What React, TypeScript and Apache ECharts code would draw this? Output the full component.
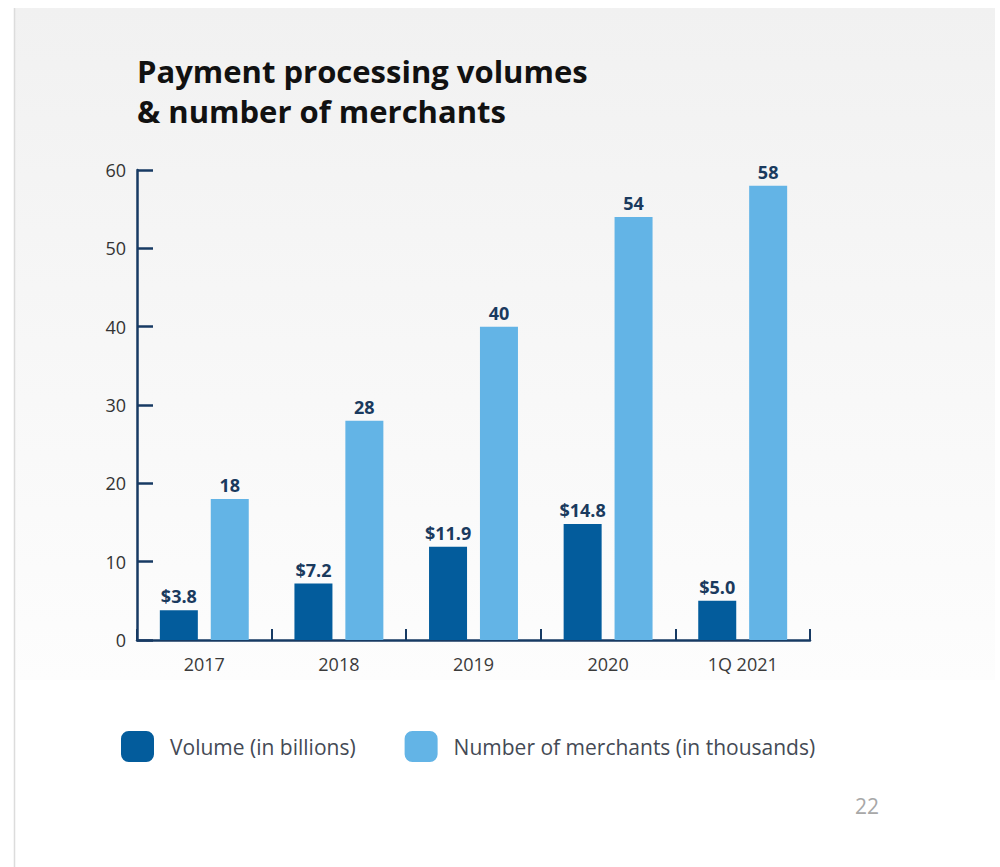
import React, { useEffect, useRef } from "react";
import * as echarts from "echarts";

const categories = ["2017", "2018", "2019", "2020", "1Q 2021"];
const volumeBillions = [3.8, 7.2, 11.9, 14.8, 5.0];
const merchantsThousands = [18, 28, 40, 54, 58];
const yTicks = [0, 10, 20, 30, 40, 50, 60];
const seriesNames = ["Volume (in billions)", "Number of merchants (in thousands)"];

export default function App() {
  const ref = useRef<HTMLDivElement>(null);
  useEffect(() => {
    if (!ref.current) return;
    const chart = echarts.init(ref.current, null, { renderer: "svg" });
    const navy = "#173a63";
    const font = "'Open Sans', 'Noto Sans', sans-serif";
    chart.setOption({
      animation: false,
      backgroundColor: "#ffffff",
      textStyle: { fontFamily: font },
      graphic: [
        {
          type: "rect",
          z: -10,
          silent: true,
          shape: { x: 14, y: 8, width: 981, height: 672 },
          style: {
            fill: new echarts.graphic.LinearGradient(0, 0, 0, 1, [
              { offset: 0, color: "#f1f1f1" },
              { offset: 1, color: "#fdfdfd" },
            ]),
          },
        },
        {
          type: "line",
          z: -9,
          silent: true,
          shape: { x1: 14.5, y1: 8, x2: 14.5, y2: 867 },
          style: { stroke: "#dcdcdc", lineWidth: 1.5 },
        },
        {
          type: "text",
          left: 855,
          top: 795,
          style: { text: "22", fill: "#a8a8a8", fontSize: 21, fontFamily: font },
        },
      ],
      title: {
        text: "Payment processing volumes\n& number of merchants",
        left: 132,
        top: 46,
        textStyle: {
          fontSize: 31,
          fontWeight: "bold",
          color: "#111111",
          lineHeight: 40,
          fontFamily: font,
        },
      },
      legend: {
        left: 116,
        top: 726,
        itemWidth: 33,
        itemHeight: 31,
        itemGap: 49,
        icon: "roundRect",
        data: seriesNames,
        textStyle: {
          fontSize: 21,
          color: "#444a55",
          padding: [0, 0, 0, 11],
          fontFamily: font,
        },
      },
      grid: { left: 137, right: 190, top: 170, bottom: 227, containLabel: false },
      xAxis: {
        type: "category",
        data: categories,
        boundaryGap: true,
        axisLine: { show: true, lineStyle: { color: navy, width: 2.5 } },
        axisTick: { show: true, inside: true, length: 11, lineStyle: { color: navy, width: 2 } },
        axisLabel: { fontSize: 18, color: "#3a3a3a", margin: 15, fontFamily: font },
      },
      yAxis: {
        type: "value",
        min: 0,
        max: 60,
        interval: 10,
        splitLine: { show: false },
        axisLine: { show: true, lineStyle: { color: navy, width: 2.5 } },
        axisTick: { show: true, inside: true, length: 16, lineStyle: { color: navy, width: 2.5 } },
        axisLabel: {
          fontSize: 18,
          color: "#333333",
          margin: 11,
          fontFamily: font,
          formatter: (v: number) => (yTicks.includes(v) ? String(v) : ""),
        },
      },
      series: [
        {
          name: seriesNames[0],
          type: "bar",
          data: volumeBillions,
          barWidth: 38,
          barGap: "34%",
          itemStyle: { color: "#035c9c" },
          label: {
            show: true,
            position: "top",
            distance: 5,
            formatter: (p: any) => "$" + Number(p.value).toFixed(1),
            fontSize: 18,
            fontWeight: "bold",
            color: "#1a3a5e",
            fontFamily: font,
          },
        },
        {
          name: seriesNames[1],
          type: "bar",
          data: merchantsThousands,
          barWidth: 38,
          itemStyle: { color: "#63b4e6" },
          label: {
            show: true,
            position: "top",
            distance: 5,
            fontSize: 18,
            fontWeight: "bold",
            color: "#1a3a5e",
            fontFamily: font,
          },
        },
      ],
    });
    return () => chart.dispose();
  }, []);
  return (
    <div
      ref={ref}
      style={{ position: "fixed", left: 0, top: 0, width: 1000, height: 867 }}
    />
  );
}
